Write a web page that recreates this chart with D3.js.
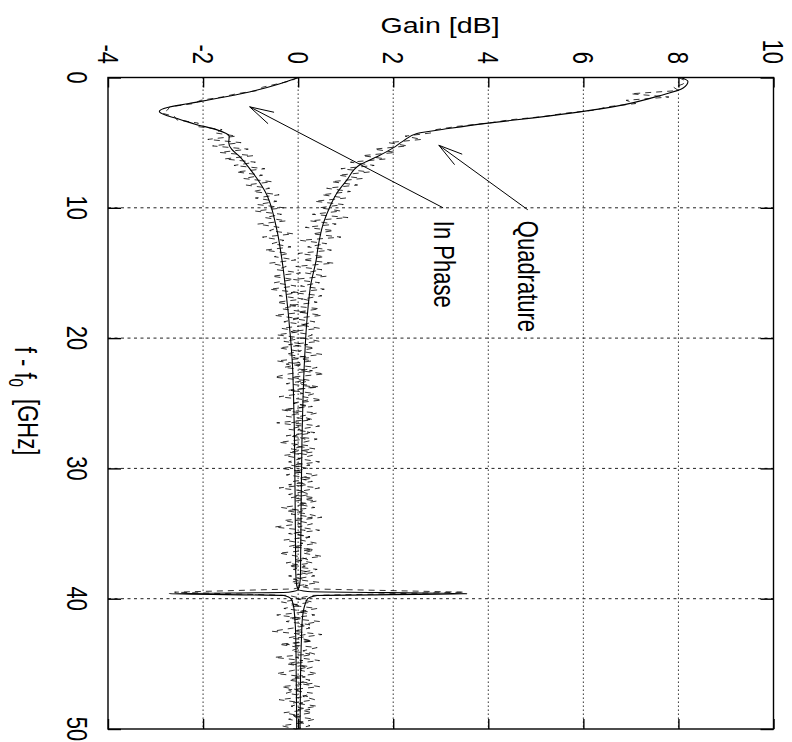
<!DOCTYPE html>
<html lang="en">
<head>
<meta charset="UTF-8">
<title>Gain vs f - f0</title>
<script src="https://cdn.jsdelivr.net/npm/d3@7/dist/d3.min.js"></script>
<style>
    * { margin: 0; padding: 0; }
    body { background: #fff; }
    svg text { font-family: "Liberation Sans", Arial, Helvetica, sans-serif; fill: #000; }
</style>
</head>
<body>
<svg id="chart" width="792" height="742"></svg>
<script>
    // tick labels
    var gainTicks = [-4, -2, 0, 2, 4, 6, 8, 10];
    var freqTicks = [0, 10, 20, 30, 40, 50];

    // smooth (solid) curves
    var inPhaseF = [0, 0.5, 1.0, 1.5, 2.0, 2.3, 2.6, 2.9, 3.2, 3.6, 4.0, 4.5, 5.0, 5.5, 6.0, 7, 8, 9, 10, 11, 12, 14, 16, 18, 20,
        22, 24, 27, 30, 34, 38, 39.0, 39.3, 39.5, 39.62, 39.75, 40.0, 40.5, 41.5, 43, 46, 50];
    var inPhaseGain = [0, -0.4, -0.9, -1.55, -2.3, -2.75, -2.92, -2.78, -2.5, -2.15, -1.72, -1.45, -1.46, -1.4, -1.25, -1.02, -0.82, -0.66, -0.56, -0.49, -0.43, -0.34, -0.27, -0.21, -0.16,
        -0.12, -0.10, -0.08, -0.07, -0.06, -0.05, -0.03, 0.0, -0.2, -2.72, -0.3, -0.15, -0.1, -0.07, -0.05, -0.04, -0.03];

    var quadF = [0, 0.3, 0.8, 1.4, 2.2, 2.6, 3.1, 3.5, 3.9, 4.3, 4.9, 5.4, 6.0, 6.7, 7.9, 8.9, 9.9, 11.2, 13, 14, 15.8, 18.4,
        22, 28, 34, 38, 39.0, 39.3, 39.45, 39.62, 39.75, 40.0, 40.5, 41.5, 43, 46, 50];
    var quadGain = [8.05, 8.2, 8.1, 7.6, 6.7, 6.0, 4.95, 4.0, 3.2, 2.5, 2.2, 2.0, 1.7, 1.3, 1.02, 0.81, 0.67, 0.53, 0.42, 0.38, 0.27, 0.19,
        0.13, 0.08, 0.06, 0.05, 0.03, 0.0, 0.2, 3.56, 0.4, 0.2, 0.14, 0.09, 0.07, 0.05, 0.04];

    // measured (dashed) curves, one value every 0.25 GHz from 0 to 50
    var dashStep = 0.25;
    var inPhaseMeas = [
        0.0, -0.15, -0.45, -0.75, -0.85, -1.3, -1.6, -2.05, -2.2, -2.7, -2.75, -2.85, -2.6, -2.55, -2.1, -2.15, -1.6, -1.75, -1.3, -1.9,
        -1.2, -1.8, -1.05, -1.65, -0.95, -1.55, -0.9, -1.35, -0.7, -1.3, -0.75, -1.15, -0.55, -1.1, -0.6, -0.95, -0.4, -0.9, -0.45, -0.85,
        -0.3, -0.9, -0.35, -0.7, -0.25, -0.85, -0.4, -0.6, -0.1, -0.75, -0.3, -0.55, -0.15, -0.7, -0.2, -0.5, -0.05, -0.6, -0.25, -0.45,
        0.05, -0.55, -0.1, -0.5, -0.05, -0.6, 0.0, -0.4, 0.1, -0.45, -0.05, -0.35, 0.15, -0.5, 0.0, -0.3, 0.2, -0.35, 0.05, -0.45,
        0.1, -0.3, 0.2, -0.4, 0.0, -0.25, 0.25, -0.45, 0.05, -0.3, 0.3, -0.2, -0.5, 0.15, -0.25, 0.35, -0.15, 0.1, -0.4, 0.2,
        -0.1, 0.3, -0.35, 0.05, -0.25, 0.25, -0.45, 0.1, -0.2, 0.35, -0.1, 0.15, -0.4, 0.2, -0.15, 0.3, -0.3, 0.05, -0.2, 0.25,
        -0.35, 0.1, -0.25, 0.3, -0.1, 0.2, -0.4, 0.15, -0.2, 0.35, -0.05, 0.2, -0.35, 0.1, -0.15, 0.3, -0.3, 0.05, -0.5, 0.15,
        -0.1, 0.25, -0.3, 0.1, -0.2, 0.3, -0.4, 0.0, 0.2, -0.25, 0.15, -0.1, 0.3, -0.2, 0.1, -0.15, 0.2, -0.1, -2.6, -0.2,
        0.1, -0.35, 0.05, -0.3, 0.2, -0.45, 0.1, -0.25, 0.25, -0.1, -0.55, 0.15, -0.2, 0.3, -0.4, 0.05, -0.15, 0.25, -0.5, 0.1,
        -0.25, 0.2, -0.1, -0.45, 0.15, -0.2, 0.3, -0.35, 0.0, -0.25, 0.2, -0.4, 0.1, -0.15, 0.25, -0.3, 0.05, -0.2, 0.15, -0.35,
        -0.05
    ];
    var quadMeas = [
        8.0, 8.15, 8.1, 7.9, 8.0, 7.0, 7.8, 6.9, 7.1, 6.5, 6.25, 5.6, 5.15, 4.45, 4.0, 3.35, 2.9, 2.8, 2.25, 2.6,
        1.9, 2.3, 1.6, 2.05, 1.35, 1.85, 1.1, 1.6, 0.9, 1.5, 0.85, 1.35, 0.7, 1.25, 0.6, 1.1, 0.5, 1.0, 0.35, 0.95,
        0.45, 0.9, 0.3, 1.05, 0.25, 0.8, 0.15, 0.75, 0.3, 0.9, 0.05, 0.6, 0.2, 0.7, 0.0, 0.55, 0.1, 0.75, -0.05, 0.5,
        0.15, 0.6, -0.1, 0.45, 0.05, 0.55, -0.15, 0.5, 0.1, 0.4, -0.2, 0.45, 0.0, 0.5, -0.1, 0.35, 0.05, 0.45, -0.15, 0.3,
        0.1, 0.45, -0.2, 0.35, 0.0, 0.5, -0.1, 0.3, -0.25, 0.4, 0.05, 0.55, -0.15, 0.25, 0.0, 0.45, -0.2, 0.35, 0.1, 0.5,
        -0.1, 0.2, -0.3, 0.4, 0.05, 0.3, -0.15, 0.45, 0.0, 0.25, -0.25, 0.4, 0.1, -0.1, 0.35, -0.2, 0.3, 0.0, 0.45, -0.15,
        0.2, -0.1, 0.4, 0.0, 0.3, -0.2, 0.45, 0.05, 0.25, -0.15, 0.4, 0.0, 0.35, -0.25, 0.2, 0.5, -0.05, 0.3, 0.0, 0.45,
        -0.2, 0.25, 0.05, 0.4, -0.1, 0.35, 0.1, 0.5, -0.05, 0.3, -0.2, 0.4, 0.05, 0.35, -0.1, 0.45, 0.0, 0.3, 3.5, 0.3,
        -0.05, 0.3, -0.15, 0.4, 0.0, 0.35, -0.2, 0.45, 0.05, 0.25, -0.1, 0.5, 0.0, 0.3, -0.25, 0.4, 0.1, 0.35, -0.05, 0.45,
        -0.15, 0.3, 0.05, 0.4, -0.1, 0.25, 0.0, 0.45, -0.2, 0.3, 0.1, 0.35, -0.1, 0.4, 0.0, 0.3, -0.15, 0.35, 0.05, 0.25,
        -0.05
    ];

    // arrow annotations in data units: [f, gain]
    var inPhaseArrow = { from: [10, 3.05], to: [2.25, -1.02], label: "In Phase", at: [11.0, 2.85] };
    var quadArrow = { from: [10.15, 4.83], to: [5.2, 2.96], label: "Quadrature", at: [11.0, 4.62] };

    var svg = d3.select("#chart");
    var x = d3.scaleLinear().domain([-4, 10]).range([108, 773.5]);   // gain runs across the page
    var y = d3.scaleLinear().domain([0, 50]).range([77.5, 729]);     // frequency runs down the page
    var sx = 1.3;  // the original fonts are stretched across the page

    // grid
    svg.append("g").selectAll("line")
        .data(gainTicks.slice(1, -1))
        .enter().append("line")
        .attr("x1", function (d) { return x(d); })
        .attr("x2", function (d) { return x(d); })
        .attr("y1", y(0)).attr("y2", y(50))
        .attr("stroke", "#222").attr("stroke-width", 1)
        .attr("stroke-dasharray", "1.4,2.6");
    svg.append("g").selectAll("line")
        .data(freqTicks.slice(1, -1))
        .enter().append("line")
        .attr("y1", function (d) { return y(d); })
        .attr("y2", function (d) { return y(d); })
        .attr("x1", x(-4)).attr("x2", x(10))
        .attr("stroke", "#222").attr("stroke-width", 1)
        .attr("stroke-dasharray", "3,3.5");

    // ticks pointing inwards on all four sides
    function ticks(axis, tx, ty) {
        var g = svg.append("g").attr("transform", "translate(" + tx + "," + ty + ")").call(axis);
        g.select(".domain").remove();
        g.selectAll("line").attr("stroke", "#000").attr("stroke-width", 1.4);
        g.selectAll("text").remove();
        return g;
    }
    ticks(d3.axisTop(x).tickValues(gainTicks).tickSizeInner(-10).tickSizeOuter(0), 0, y(0));
    ticks(d3.axisBottom(x).tickValues(gainTicks).tickSizeInner(-10).tickSizeOuter(0), 0, y(50));
    ticks(d3.axisLeft(y).tickValues(freqTicks).tickSizeInner(-13).tickSizeOuter(0), x(-4), 0);
    ticks(d3.axisRight(y).tickValues(freqTicks).tickSizeInner(-13).tickSizeOuter(0), x(10), 0);

    // measured curves
    var dashLine = d3.line()
        .x(function (d) { return x(d.g); })
        .y(function (d) { return y(d.f); });
    [inPhaseMeas, quadMeas].forEach(function (vals) {
        var pts = vals.map(function (v, i) { return { f: i * dashStep, g: v }; });
        svg.append("path")
            .attr("d", dashLine(pts))
            .attr("fill", "none").attr("stroke", "#000").attr("stroke-width", 0.8)
            .attr("stroke-dasharray", "6,5");
    });

    // smooth curves
    var solidLine = d3.line()
        .curve(d3.curveMonotoneY)
        .x(function (d) { return x(d.g); })
        .y(function (d) { return y(d.f); });
    [[inPhaseF, inPhaseGain], [quadF, quadGain]].forEach(function (s) {
        var pts = s[0].map(function (f, i) { return { f: f, g: s[1][i] }; });
        svg.append("path")
            .attr("d", solidLine(pts))
            .attr("fill", "none").attr("stroke", "#000").attr("stroke-width", 1.1);
    });

    // border
    svg.append("rect")
        .attr("x", x(-4)).attr("y", y(0))
        .attr("width", x(10) - x(-4)).attr("height", y(50) - y(0))
        .attr("fill", "none").attr("stroke", "#000").attr("stroke-width", 1.4);

    // arrows with open heads
    function arrow(a) {
        var x1 = x(a.from[1]), y1 = y(a.from[0]), x2 = x(a.to[1]), y2 = y(a.to[0]);
        var ang = Math.atan2(y1 - y2, x1 - x2), len = 25, spread = 15 * Math.PI / 180;
        var g = svg.append("g").attr("stroke", "#000").attr("stroke-width", 1);
        g.append("line").attr("x1", x1).attr("y1", y1).attr("x2", x2).attr("y2", y2);
        [-spread, spread].forEach(function (s) {
            g.append("line").attr("x1", x2).attr("y1", y2)
                .attr("x2", x2 + len * Math.cos(ang + s))
                .attr("y2", y2 + len * Math.sin(ang + s));
        });
        svg.append("text")
            .attr("transform", "translate(" + x(a.at[1]) + "," + y(a.at[0]) + ") scale(" + sx + ",1) rotate(90)")
            .attr("font-size", 22)
            .text(a.label);
    }
    arrow(inPhaseArrow);
    arrow(quadArrow);

    // tick labels
    svg.append("g").selectAll("text")
        .data(gainTicks)
        .enter().append("text")
        .attr("transform", function (d) { return "translate(" + x(d) + ",64) scale(" + sx + ",1) rotate(90)"; })
        .attr("text-anchor", "end")
        .attr("dy", "0.36em")
        .attr("font-size", 22)
        .text(function (d) { return d; });
    svg.append("g").selectAll("text")
        .data(freqTicks)
        .enter().append("text")
        .attr("transform", function (d) { return "translate(77," + y(d) + ") scale(" + sx + ",1) rotate(90)"; })
        .attr("text-anchor", "middle")
        .attr("dy", "0.36em")
        .attr("font-size", 22)
        .text(function (d) { return d; });

    // axis titles
    svg.append("text")
        .attr("transform", "translate(440,33) scale(" + sx + ",1)")
        .attr("text-anchor", "middle")
        .attr("font-size", 22)
        .text("Gain [dB]");
    var xt = svg.append("text")
        .attr("transform", "translate(15,401) scale(" + sx + ",1) rotate(90)")
        .attr("text-anchor", "middle")
        .attr("font-size", 22);
    xt.append("tspan").text("f - f");
    xt.append("tspan").attr("font-size", 15).attr("dy", "0.3em").text("0");
    xt.append("tspan").attr("dy", "-0.3em").text("  [GHz]").style("white-space", "pre");
</script>
</body>
</html>
